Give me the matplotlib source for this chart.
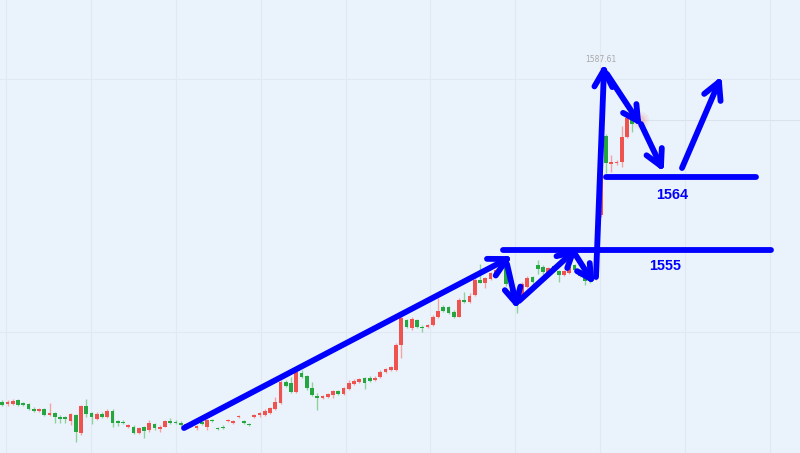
import numpy as np
import matplotlib
matplotlib.use("Agg")
import matplotlib.pyplot as plt

open_ = [1503.94, 1503.29, 1503.36, 1504.36, 1503.54, 1503.29, 1502.19, 1501.61, 1502.04, 1500.54,
         1501.04, 1500.19, 1500.04, 1499.19, 1500.61, 1496.19, 1502.86, 1501.04, 1499.54, 1500.79,
         1500.04, 1501.69, 1499.11, 1498.94, 1497.69, 1497.69, 1496.04, 1497.54, 1496.86, 1498.36,
         1497.04, 1497.69, 1499.11, 1498.94, 1498.69, 1497.86, 1498.36, 1497.29, 1498.86, 1497.54,
         1499.36, 1497.36, 1497.69, 1499.04, 1498.69, 1500.04, 1499.04, 1498.36, 1500.19, 1500.54,
         1500.61, 1501.19, 1502.04, 1503.54, 1508.94, 1508.54, 1506.44, 1511.19, 1510.36, 1507.29,
         1505.44, 1504.94, 1505.04, 1505.54, 1506.61, 1505.86, 1507.04, 1508.36, 1508.94, 1509.79,
         1509.94, 1509.36, 1510.19, 1511.29, 1511.86, 1511.86, 1518.11, 1524.36, 1522.29, 1524.36,
         1522.69, 1522.54, 1523.11, 1525.04, 1527.69, 1527.54, 1526.44, 1525.19, 1529.36, 1528.94,
         1530.61, 1534.36, 1533.54, 1534.54, 1535.61, 1537.04, 1537.61, 1533.36, 1530.36, 1529.86,
         1532.61, 1535.11, 1538.11, 1537.61, 1536.11, 1537.86, 1536.61, 1535.61, 1536.11, 1538.11,
         1536.86, 1535.36, 1535.11, 1534.61, 1550.61, 1570.36, 1563.36, 1563.61, 1563.86, 1570.11,
         1574.36, 1573.86]
close = [1503.11, 1503.94, 1504.19, 1503.11, 1503.11, 1502.04, 1501.61, 1502.04, 1500.61, 1501.04,
         1500.04, 1499.69, 1499.54, 1500.79, 1496.44, 1502.86, 1500.79, 1500.04, 1500.79, 1500.04,
         1501.69, 1498.54, 1498.54, 1498.54, 1498.04, 1496.04, 1497.29, 1496.69, 1498.54, 1497.29,
         1497.69, 1499.19, 1498.54, 1498.54, 1498.11, 1498.36, 1497.86, 1497.86, 1498.36, 1499.36,
         1499.04, 1497.04, 1497.29, 1499.36, 1498.94, 1500.36, 1498.69, 1498.04, 1500.54, 1501.04,
         1501.69, 1502.36, 1503.94, 1508.94, 1507.94, 1506.44, 1511.44, 1510.19, 1507.29, 1505.61,
         1504.79, 1505.36, 1505.79, 1506.69, 1505.86, 1507.29, 1508.54, 1509.19, 1509.61, 1508.69,
         1509.19, 1509.94, 1511.44, 1512.04, 1512.54, 1518.11, 1524.86, 1522.69, 1524.54, 1522.69,
         1522.29, 1523.11, 1525.19, 1526.69, 1526.69, 1526.19, 1525.04, 1529.36, 1528.86, 1530.36,
         1534.36, 1533.69, 1534.79, 1536.04, 1536.86, 1537.69, 1533.36, 1530.36, 1528.61, 1533.36,
         1534.86, 1533.86, 1537.11, 1536.36, 1537.36, 1536.86, 1535.61, 1536.61, 1537.61, 1536.86,
         1535.36, 1534.11, 1534.36, 1536.36, 1561.11, 1563.61, 1563.86, 1563.86, 1570.11, 1574.86,
         1573.36, 1574.36]
high = [1504.24, 1504.24, 1504.49, 1504.61, 1503.86, 1503.61, 1502.49, 1502.36, 1502.36, 1503.69,
        1501.36, 1500.49, 1500.36, 1501.04, 1500.86, 1503.11, 1504.54, 1501.36, 1501.44, 1501.44,
        1501.99, 1501.99, 1499.36, 1499.24, 1498.36, 1497.99, 1497.61, 1497.86, 1499.36, 1498.69,
        1497.99, 1499.36, 1499.79, 1499.24, 1498.99, 1498.61, 1498.61, 1498.11, 1499.11, 1499.61,
        1499.61, 1497.61, 1497.99, 1499.61, 1499.24, 1500.61, 1499.36, 1498.61, 1500.86, 1501.44,
        1501.99, 1502.61, 1505.04, 1509.36, 1509.24, 1510.19, 1511.86, 1511.86, 1510.61, 1508.94,
        1506.19, 1505.61, 1506.11, 1506.86, 1506.86, 1507.61, 1509.36, 1509.49, 1509.86, 1510.19,
        1510.24, 1510.24, 1511.74, 1512.36, 1512.86, 1518.61, 1525.36, 1524.61, 1525.19, 1524.61,
        1522.99, 1523.36, 1525.49, 1529.79, 1528.11, 1527.86, 1526.74, 1529.79, 1531.44, 1531.04,
        1534.79, 1538.36, 1535.19, 1536.44, 1537.11, 1537.99, 1537.86, 1533.61, 1530.61, 1533.86,
        1535.36, 1535.36, 1539.36, 1538.11, 1537.61, 1538.11, 1536.86, 1536.86, 1537.86, 1538.36,
        1537.11, 1535.61, 1535.36, 1536.61, 1587.61, 1570.86, 1565.61, 1564.36, 1572.86, 1575.61,
        1574.86, 1574.61]
low = [1502.86, 1502.86, 1503.11, 1502.86, 1502.86, 1501.74, 1501.36, 1501.36, 1500.36, 1500.36,
       1498.69, 1498.69, 1498.54, 1498.11, 1493.94, 1495.61, 1500.19, 1498.36, 1499.36, 1499.74,
       1499.74, 1497.54, 1497.86, 1498.24, 1497.36, 1495.74, 1495.74, 1494.79, 1496.44, 1496.86,
       1496.44, 1497.54, 1498.36, 1498.24, 1497.86, 1497.61, 1497.61, 1496.86, 1498.11, 1496.86,
       1498.74, 1496.74, 1496.99, 1498.74, 1498.36, 1499.74, 1498.36, 1497.74, 1499.86, 1500.19,
       1500.36, 1500.86, 1501.86, 1503.36, 1507.61, 1506.04, 1506.04, 1509.79, 1506.86, 1505.36,
       1501.86, 1504.61, 1504.74, 1504.79, 1505.61, 1505.61, 1506.86, 1508.11, 1508.61, 1507.04,
       1508.86, 1509.11, 1509.86, 1510.99, 1511.61, 1511.61, 1514.86, 1522.36, 1521.86, 1522.36,
       1521.44, 1522.24, 1522.86, 1524.79, 1526.44, 1525.86, 1524.74, 1525.04, 1528.69, 1528.54,
       1530.36, 1533.54, 1532.29, 1534.36, 1535.36, 1536.74, 1532.86, 1529.86, 1526.11, 1529.36,
       1532.36, 1532.86, 1535.86, 1535.11, 1535.86, 1536.61, 1533.86, 1535.36, 1535.86, 1536.61,
       1535.11, 1533.11, 1533.61, 1534.36, 1550.11, 1561.11, 1561.36, 1563.11, 1562.61, 1569.86,
       1571.36, 1573.61]

level_labels = ["1555", "1564"]

BG = "#eaf3fc"
GRID = "#e0e9f2"
UP = "#ef5350"
DOWN = "#26a641"
UP_WICK = "#f4a3a1"
DOWN_WICK = "#8fd19c"
BLUE = "#0000ff"

fig = plt.figure(figsize=(8, 4.53), dpi=100)
fig.patch.set_facecolor(BG)
ax = fig.add_axes([0, 0, 1, 1])
ax.set_facecolor(BG)

o = np.array(open_); c = np.array(close); h = np.array(high); l = np.array(low)
idx = np.arange(len(o))
rising = c >= o
body_col = np.where(rising, UP, DOWN)
wick_col = np.where(rising, UP_WICK, DOWN_WICK)

ax.vlines(idx, l, h, colors=wick_col, linewidth=1.0, zorder=2)
bottoms = np.minimum(o, c)
heights = np.maximum(np.abs(c - o), 0.3)
ax.bar(idx, heights, bottom=bottoms, width=0.68, color=body_col, linewidth=0, zorder=3)

# view window (index / price)
ax.set_xlim(-0.43, 151.95)
ax.set_ylim(1491.11, 1604.36)

# faint grid
for gx in np.arange(0.71, 152, 16.17):
    ax.axvline(gx, color=GRID, lw=0.8, zorder=0)
for gy in [1521.36, 1584.61]:
    ax.axhline(gy, color=GRID, lw=0.8, zorder=0)

# last price line and pulse
last = len(c) - 1
ax.hlines(c[last], last, 152, color="#d9e3ee", lw=0.8, zorder=1)
for r, a in [(160, 0.10), (90, 0.15), (40, 0.2)]:
    ax.scatter([last + 0.5], [c[last]], s=r, color="#f28b82", alpha=a, linewidths=0, zorder=1)

# high label
hi = int(np.argmax(h))
ax.annotate(f"{h[hi]:.2f}", xy=(hi, h[hi]), xytext=(0, 2), textcoords="offset points",
            ha="center", va="bottom", fontsize=5.5, color="#a8a8a8")

for s in ax.spines.values():
    s.set_visible(False)
ax.set_xticks([]); ax.set_yticks([])

# hand-drawn overlay in pixel space
ov = fig.add_axes([0, 0, 1, 1])
ov.set_xlim(0, 800); ov.set_ylim(453, 0)
ov.patch.set_alpha(0)
ov.axis("off")

LW = 4.2

def seg(p, q, lw=LW):
    ov.plot([p[0], q[0]], [p[1], q[1]], color=BLUE, lw=lw, solid_capstyle="round", zorder=5)

def arrow(tail, tip, head=18, ang=28):
    seg(tail, tip)
    d = np.array(tail, float) - np.array(tip, float)
    d /= np.hypot(*d)
    for s in (1, -1):
        t = np.deg2rad(ang * s)
        rot = np.array([[np.cos(t), -np.sin(t)], [np.sin(t), np.cos(t)]])
        e = np.array(tip) + head * rot @ d
        seg(tip, e)

arrow((184, 428), (507, 259), head=20)
arrow((507, 264), (516, 303), head=17)
arrow((519, 301), (573, 252), head=17)
arrow((575, 254), (591, 279), head=16)
arrow((596, 277), (604, 70), head=19)
arrow((607, 74), (638, 121), head=17)
arrow((641, 124), (661, 166), head=18)
arrow((682, 168), (719, 82), head=19)

seg((503, 250), (771, 250))
seg((606, 177), (756, 177))
ov.text(665, 266, level_labels[0], color=BLUE, fontsize=10.4, fontweight="bold",
        family="Liberation Sans", ha="center", va="center")
ov.text(672, 195, level_labels[1], color=BLUE, fontsize=10.4, fontweight="bold",
        family="Liberation Sans", ha="center", va="center")

fig.savefig("out.png", dpi=100, facecolor=BG)
